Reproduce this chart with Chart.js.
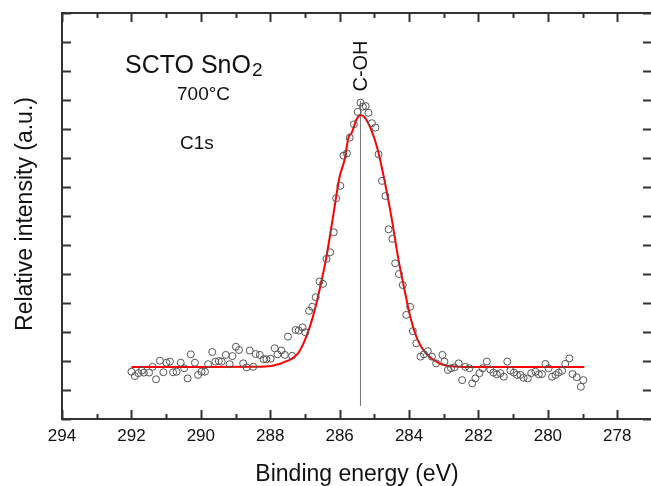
<!DOCTYPE html>
<html>
<head>
<meta charset="utf-8">
<script src="https://cdn.jsdelivr.net/npm/chart.js@4.4.1/dist/chart.umd.min.js"></script>
<style>
  html, body { margin: 0; padding: 0; overflow: hidden; background: #fff; }
</style>
</head>
<body>
<canvas id="xps" width="662" height="486"></canvas>
<script>
// C1s XPS spectrum, SCTO SnO2 700°C

// measured points (binding energy, intensity a.u.)
const energy = [292.0, 291.9, 291.8, 291.7, 291.64, 291.49, 291.39, 291.29, 291.18, 291.08,
  290.99, 290.89, 290.8, 290.7, 290.58, 290.48, 290.38, 290.29, 290.17, 290.08,
  289.98, 289.88, 289.79, 289.67, 289.58, 289.48, 289.4, 289.28, 289.17, 289.09,
  288.99, 288.9, 288.78, 288.68, 288.59, 288.49, 288.42, 288.3, 288.19, 288.11,
  287.99, 287.87, 287.79, 287.68, 287.58, 287.49, 287.37, 287.27, 287.18, 287.07,
  286.99, 286.88, 286.79, 286.69, 286.58, 286.48, 286.38, 286.27, 286.17, 286.1,
  285.98, 285.89, 285.79, 285.71, 285.59, 285.48, 285.4, 285.33, 285.25, 285.17,
  285.07, 284.97, 284.88, 284.78, 284.68, 284.59, 284.48, 284.4, 284.29, 284.18,
  284.08, 283.97, 283.89, 283.79, 283.67, 283.57, 283.46, 283.34, 283.22, 283.04,
  282.98, 282.88, 282.79, 282.69, 282.57, 282.47, 282.38, 282.26, 282.18, 282.09,
  281.97, 281.88, 281.76, 281.66, 281.57, 281.47, 281.37, 281.27, 281.17, 281.08,
  280.98, 280.89, 280.79, 280.7, 280.58, 280.48, 280.36, 280.26, 280.17, 280.07,
  279.98, 279.88, 279.78, 279.69, 279.59, 279.5, 279.38, 279.29, 279.17, 279.05, 278.98];
const intensity = [1.63, 1.48, 1.58, 1.67, 1.6, 1.6, 1.8, 1.37, 2.01, 1.61,
  1.94, 1.98, 1.61, 1.63, 1.94, 1.75, 1.4, 2.23, 1.94, 1.52,
  1.63, 1.63, 1.89, 2.31, 1.98, 2.0, 1.98, 2.21, 1.89, 2.17,
  2.49, 2.38, 1.92, 1.78, 2.36, 1.8, 2.24, 2.21, 2.06, 2.06,
  2.08, 2.44, 2.23, 2.36, 2.21, 2.84, 2.18, 3.07, 3.05, 3.16,
  2.99, 3.73, 3.87, 4.2, 4.74, 4.66, 5.52, 5.75, 6.44, 7.61,
  8.04, 9.08, 9.16, 9.7, 10.16, 10.59, 10.91, 10.77, 10.79, 10.56,
  10.2, 10.05, 9.13, 8.21, 7.69, 6.54, 6.21, 5.37, 5.0, 4.62,
  3.59, 3.87, 3.03, 2.61, 2.15, 2.23, 2.34, 2.15, 1.92, 2.21,
  1.98, 1.69, 1.75, 1.78, 1.92, 1.34, 1.8, 1.75, 1.23, 1.4,
  1.58, 1.75, 1.98, 1.71, 1.6, 1.54, 1.58, 1.46, 1.98, 1.67,
  1.6, 1.52, 1.52, 1.42, 1.4, 1.58, 1.63, 1.54, 1.55, 1.9,
  1.75, 1.46, 1.52, 1.6, 1.66, 1.9, 2.09, 1.55, 1.44, 1.11, 1.34];

// fitted peak (red curve)
const fitEnergy = [292.0, 290.0, 288.45, 287.97, 287.49, 287.2, 286.96, 286.77, 286.58, 286.38,
  286.19, 286.0, 285.86, 285.74, 285.66, 285.52, 285.4, 285.28, 285.09, 284.9,
  284.71, 284.51, 284.32, 284.13, 283.94, 283.75, 283.51, 283.12, 282.7, 282.0, 280.0, 278.95];
const fitIntensity = [1.79, 1.79, 1.8, 1.83, 2.01, 2.26, 2.84, 3.53, 4.45, 5.6,
  6.98, 8.36, 8.93, 9.73, 9.85, 10.31, 10.48, 10.4, 9.97, 9.28,
  8.24, 6.98, 5.6, 4.45, 3.41, 2.72, 2.26, 1.92, 1.81, 1.79, 1.79, 1.79];

// C-OH position marker
const markerEnergy = 285.4;
const markerRange = [0.45, 10.97];

const xTicks = [278, 280, 282, 284, 286, 288, 290, 292, 294];

const FONT = '"Liberation Sans", Arial, sans-serif';

const frame = {
  id: 'frame',
  afterDraw(chart) {
    const { ctx, chartArea: a, scales: { x, y } } = chart;
    ctx.save();
    ctx.strokeStyle = '#333';
    ctx.lineWidth = 2;
    ctx.strokeRect(a.left, a.top, a.right - a.left, a.bottom - a.top);
    ctx.beginPath();
    for (let v = 277; v <= 294; v++) {
      const px = Math.round(x.getPixelForValue(v)) + 0.5;
      const len = v % 2 === 0 ? 9 : 5;
      ctx.moveTo(px, a.bottom); ctx.lineTo(px, a.bottom - len);
      ctx.moveTo(px, a.top); ctx.lineTo(px, a.top + len);
    }
    for (let v = 0; v <= 14; v++) {
      const py = Math.round(y.getPixelForValue(v)) + 0.5;
      ctx.moveTo(a.left, py); ctx.lineTo(a.left + 9, py);
      ctx.moveTo(a.right, py); ctx.lineTo(a.right - 9, py);
    }
    ctx.stroke();

    ctx.fillStyle = '#111';
    // axis titles
    ctx.font = '23px ' + FONT;
    ctx.textAlign = 'center';
    ctx.textBaseline = 'alphabetic';
    ctx.fillText('Binding energy (eV)', (a.left + 652) / 2, 481);
    ctx.save();
    ctx.translate(32, (a.top + a.bottom) / 2 - 2);
    ctx.rotate(-Math.PI / 2);
    ctx.fillText('Relative intensity (a.u.)', 0, 0);
    ctx.restore();

    // sample labels
    ctx.textAlign = 'left';
    ctx.font = '25px ' + FONT;
    ctx.fillText('SCTO SnO', 125, 73);
    const w = ctx.measureText('SCTO SnO').width;
    ctx.font = '19px ' + FONT;
    ctx.fillText('2', 125 + w + 1, 76);
    ctx.font = '19px ' + FONT;
    ctx.fillText('700°C', 177, 100);
    ctx.font = '19px ' + FONT;
    ctx.fillText('C1s', 180, 149);

    // peak label
    ctx.save();
    ctx.translate(x.getPixelForValue(markerEnergy) + 7, 66);
    ctx.rotate(-Math.PI / 2);
    ctx.textAlign = 'center';
    ctx.font = '20px ' + FONT;
    ctx.fillText('C-OH', 0, 0);
    ctx.restore();
    ctx.restore();
  }
};

new Chart(document.getElementById('xps'), {
  type: 'scatter',
  data: {
    datasets: [
      {
        data: energy.map((e, i) => ({ x: e, y: intensity[i] })),
        pointStyle: 'circle',
        pointRadius: 3.5,
        borderWidth: 1,
        borderColor: '#555',
        backgroundColor: 'rgba(0,0,0,0)'
      },
      {
        data: fitEnergy.map((e, i) => ({ x: e, y: fitIntensity[i] })),
        showLine: true,
        cubicInterpolationMode: 'monotone',
        pointRadius: 0,
        borderColor: '#ff0000',
        borderWidth: 2
      },
      {
        data: markerRange.map(v => ({ x: markerEnergy, y: v })),
        showLine: true,
        pointRadius: 0,
        borderColor: '#777',
        borderWidth: 1
      }
    ]
  },
  options: {
    responsive: false,
    animation: false,
    devicePixelRatio: 1,
    layout: { padding: { left: 62, top: 13, right: 10, bottom: 0 } },
    plugins: { legend: { display: false }, tooltip: { enabled: false } },
    scales: {
      x: {
        type: 'linear',
        min: 277,
        max: 294,
        reverse: true,
        grid: { display: false, drawTicks: false },
        border: { display: false },
        afterFit(s) { s.height = 67; },
        afterBuildTicks(s) { s.ticks = xTicks.map(v => ({ value: v })); },
        ticks: {
          autoSkip: false,
          maxRotation: 0,
          padding: 7,
          color: '#111',
          font: { family: FONT, size: 17 }
        }
      },
      y: {
        display: false,
        min: 0,
        max: 14
      }
    }
  },
  plugins: [frame]
});
</script>
</body>
</html>
